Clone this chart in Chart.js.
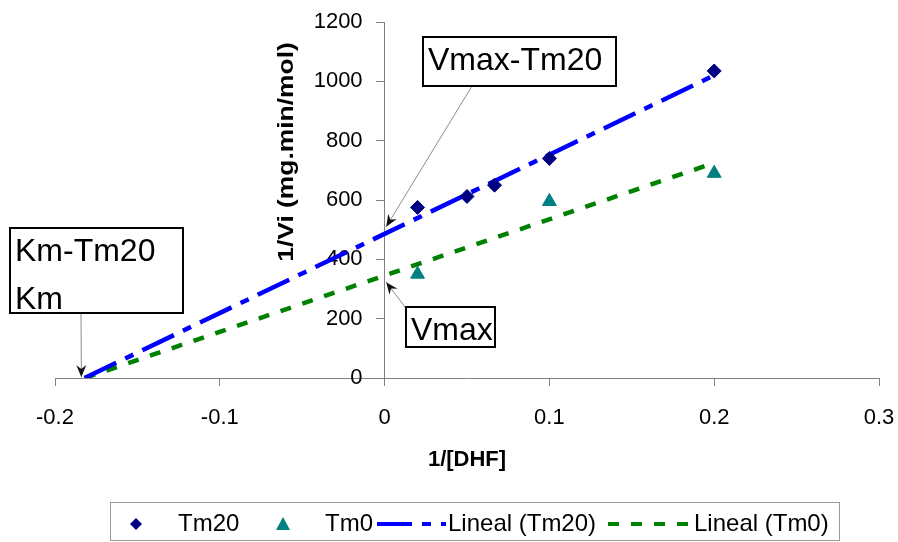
<!DOCTYPE html>
<html>
<head>
<meta charset="utf-8">
<script src="https://cdn.jsdelivr.net/npm/chart.js@4.4.0/dist/chart.umd.min.js"></script>
<style>
  html, body { margin: 0; padding: 0; background: #fff; }
  #wrap { width: 898px; height: 542px; }
</style>
</head>
<body>
<div id="wrap"><canvas id="myChart" width="898" height="542"></canvas></div>
<script>
// values
const tm20X = [0.02, 0.05, 0.0667, 0.1, 0.2];
const tm20Y = [575, 612, 650, 740, 1035];
const tm0X = [0.02, 0.1, 0.2];
const tm0Y = [350, 595, 690];
const trendX = [-0.182, 0.2];
const trend20Y = [0, 1020];
const trend0Y = [0, 725];
const xTicks = [-0.2, -0.1, 0, 0.1, 0.2, 0.3];
const yTicks = [0, 200, 400, 600, 800, 1000, 1200];
const seriesNames = ['Tm20', 'Tm0', 'Lineal (Tm20)', 'Lineal (Tm0)'];
const xTitle = '1/[DHF]';
const yTitle = '1/Vi (mg.min/mol)';

const FONT = '"Liberation Sans", Arial, sans-serif';
const NAVY = '#000080', TEAL = '#008080', BLUE = '#0000ff', GREEN = '#008000';
const dash20 = [35, 10, 9, 10];
const dash0 = [11, 12];

let toPoints = (xs, ys) => xs.map((x, i) => ({x: x, y: ys[i]}));

// arrow tips are anchored in data units
const notes = [
  {lines: ['Vmax-Tm20'], box: [423, 37, 193, 49], from: [472, 86], tip: [0.001, 510]},
  {lines: ['Km-Tm20', 'Km'], box: [10, 228, 173, 85], from: [81, 313], tip: [-0.184, 3]},
  {lines: ['Vmax'], box: [406, 307, 89, 40], from: [408, 311], tip: [0.001, 323]}
];

function arrow(ctx, x0, y0, x1, y1) {
  ctx.save();
  ctx.strokeStyle = '#8c8c8c';
  ctx.lineWidth = 1;
  ctx.beginPath();
  ctx.moveTo(x0, y0);
  ctx.lineTo(x1, y1);
  ctx.stroke();
  let a = Math.atan2(y1 - y0, x1 - x0);
  ctx.translate(x1, y1);
  ctx.rotate(a);
  ctx.fillStyle = '#111';
  ctx.beginPath();
  ctx.moveTo(0, 0);
  ctx.lineTo(-12, -5);
  ctx.lineTo(-8, 0);
  ctx.lineTo(-12, 5);
  ctx.closePath();
  ctx.fill();
  ctx.restore();
}

const extras = {
  id: 'extras',
  afterDraw(chart) {
    const ctx = chart.ctx;
    const xs = chart.scales.x, ys = chart.scales.y;
    ctx.save();

    // axis titles
    ctx.fillStyle = '#000';
    ctx.font = 'bold 22px ' + FONT;
    ctx.textAlign = 'center';
    ctx.textBaseline = 'alphabetic';
    ctx.fillText(xTitle, (chart.chartArea.left + chart.chartArea.right) / 2, 466);
    ctx.save();
    ctx.translate(287, 152);
    ctx.rotate(-Math.PI / 2);
    ctx.scale(1.2, 1);
    ctx.textBaseline = 'middle';
    ctx.fillText(yTitle, 0, 0);
    ctx.restore();

    // text boxes with arrows
    notes.forEach(n => {
      arrow(ctx, n.from[0], n.from[1], xs.getPixelForValue(n.tip[0]), ys.getPixelForValue(n.tip[1]));
      ctx.fillStyle = '#fff';
      ctx.fillRect(n.box[0], n.box[1], n.box[2], n.box[3]);
      ctx.strokeStyle = '#000';
      ctx.lineWidth = 2;
      ctx.strokeRect(n.box[0], n.box[1], n.box[2], n.box[3]);
      ctx.fillStyle = '#000';
      ctx.font = '32px ' + FONT;
      ctx.textAlign = 'left';
      ctx.textBaseline = 'alphabetic';
      n.lines.forEach((t, i) => ctx.fillText(t, n.box[0] + 5, n.box[1] + 33 + i * 48));
    });

    // legend
    ctx.strokeStyle = '#9a9a9a';
    ctx.lineWidth = 1;
    ctx.strokeRect(110.5, 502.5, 729, 38);
    const ly = 524;
    ctx.font = '24px ' + FONT;
    ctx.textAlign = 'left';
    ctx.textBaseline = 'middle';
    // diamond
    ctx.fillStyle = NAVY;
    ctx.beginPath();
    ctx.moveTo(136, ly - 6); ctx.lineTo(142, ly); ctx.lineTo(136, ly + 6); ctx.lineTo(130, ly);
    ctx.closePath(); ctx.fill();
    ctx.fillStyle = '#000';
    ctx.fillText(seriesNames[0], 178, ly);
    // triangle
    ctx.fillStyle = TEAL;
    ctx.beginPath();
    ctx.moveTo(283, ly - 7); ctx.lineTo(290, ly + 6); ctx.lineTo(276, ly + 6);
    ctx.closePath(); ctx.fill();
    ctx.fillStyle = '#000';
    ctx.fillText(seriesNames[1], 325, ly);
    // line samples
    ctx.lineWidth = 4;
    ctx.strokeStyle = BLUE;
    ctx.setLineDash(dash20);
    ctx.beginPath(); ctx.moveTo(377, ly); ctx.lineTo(446, ly); ctx.stroke();
    ctx.fillText(seriesNames[2], 448, ly);
    ctx.strokeStyle = GREEN;
    ctx.setLineDash(dash0);
    ctx.beginPath(); ctx.moveTo(608, ly); ctx.lineTo(692, ly); ctx.stroke();
    ctx.setLineDash([]);
    ctx.fillText(seriesNames[3], 694, ly);

    ctx.restore();
  }
};

let ctx = document.getElementById('myChart').getContext('2d');
let chart = new Chart(ctx, {
  type: 'scatter',
  data: {
    datasets: [{
      label: seriesNames[0],
      data: toPoints(tm20X, tm20Y),
      pointStyle: 'rectRot',
      pointRadius: 7,
      backgroundColor: NAVY,
      borderColor: NAVY,
      showLine: false
    }, {
      label: seriesNames[1],
      data: toPoints(tm0X, tm0Y),
      pointStyle: 'triangle',
      pointRadius: 8,
      backgroundColor: TEAL,
      borderColor: TEAL,
      showLine: false
    }, {
      label: seriesNames[2],
      data: toPoints(trendX, trend20Y),
      showLine: true,
      borderColor: BLUE,
      borderWidth: 4.5,
      borderDash: dash20,
      pointRadius: 0
    }, {
      label: seriesNames[3],
      data: toPoints(trendX, trend0Y),
      showLine: true,
      borderColor: GREEN,
      borderWidth: 4.5,
      borderDash: dash0,
      pointRadius: 0
    }]
  },
  options: {
    responsive: false,
    animation: false,
    devicePixelRatio: 1,
    layout: {padding: {left: 55, right: 19, top: 22, bottom: 0}},
    plugins: {legend: {display: false}, tooltip: {enabled: false}},
    scales: {
      x: {
        type: 'linear',
        min: -0.2,
        max: 0.3,
        afterBuildTicks: s => { s.ticks = xTicks.map(v => ({value: v})); },
        afterFit: s => { s.height = 164; s.paddingLeft = 0; s.paddingRight = 0; },
        ticks: {color: '#000', font: {size: 22, family: FONT}, padding: 19, maxRotation: 0},
        grid: {drawOnChartArea: false, tickLength: 8, color: '#808080'},
        border: {color: '#808080'}
      },
      y: {
        type: 'linear',
        position: {x: 0},
        min: 0,
        max: 1200,
        afterBuildTicks: s => { s.ticks = yTicks.map(v => ({value: v})); },
        ticks: {
          color: '#000',
          font: {size: 22, family: FONT},
          callback: v => String(v) + '\u2002\u2002'
        },
        grid: {drawOnChartArea: false, tickLength: 8, color: '#808080'},
        border: {color: '#808080'}
      }
    }
  },
  plugins: [extras]
});
</script>
</body>
</html>
